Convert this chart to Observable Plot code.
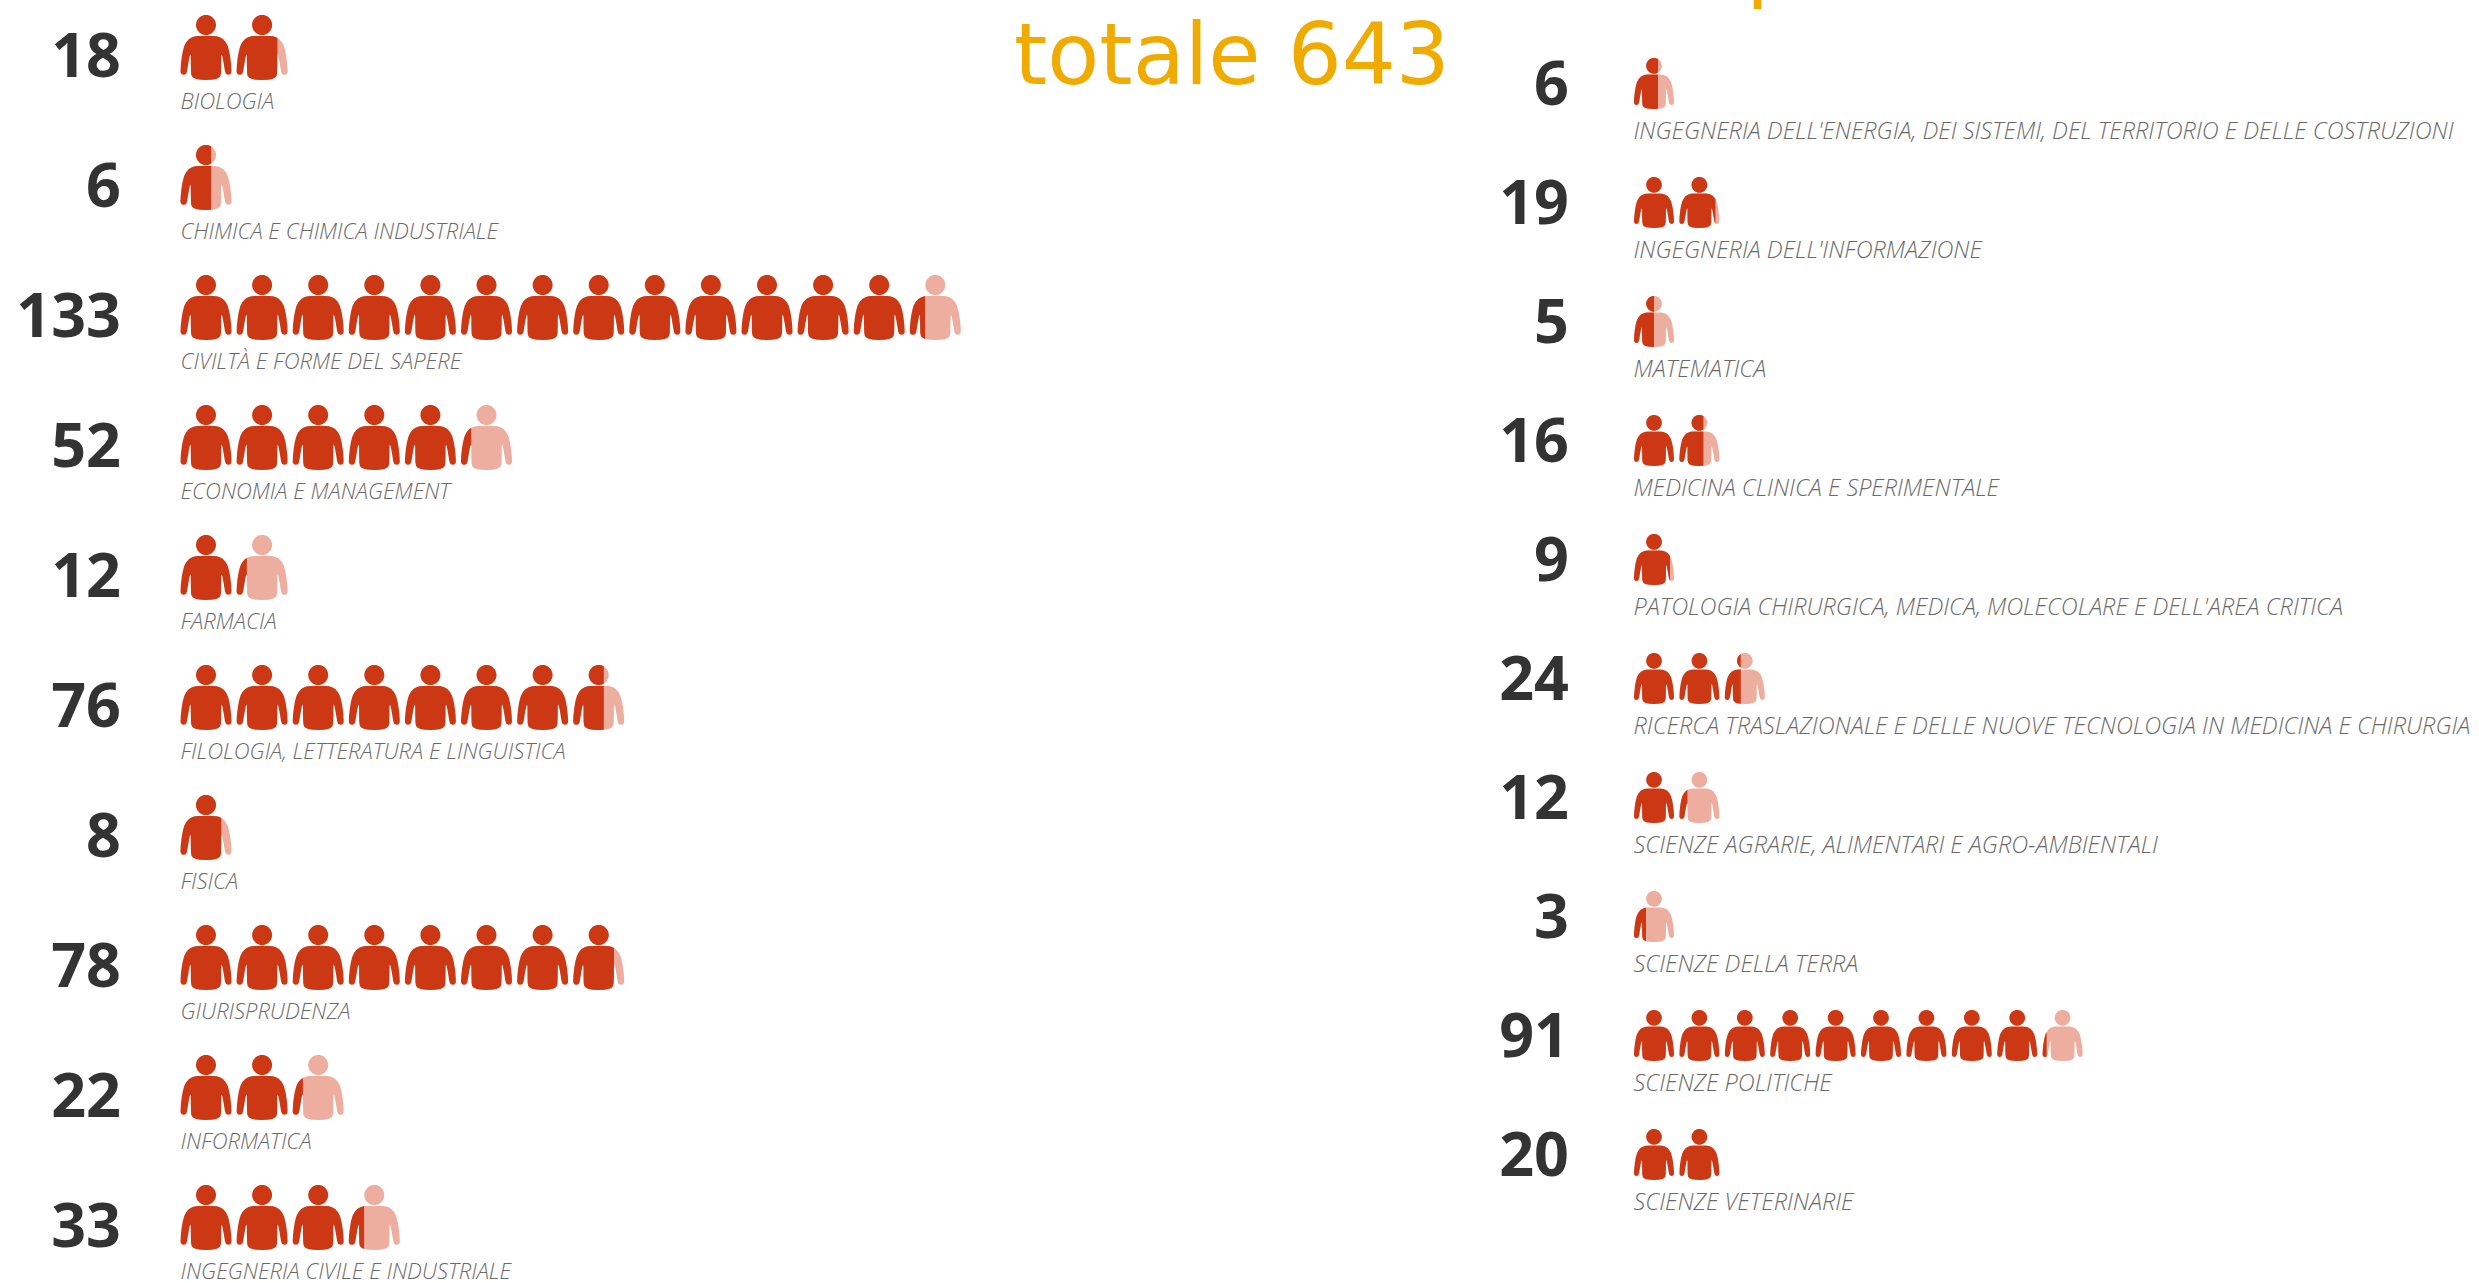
<!DOCTYPE html>
<html lang="it">
<head>
<meta charset="utf-8">
<script src="https://cdn.jsdelivr.net/npm/d3@7"></script>
<script src="https://cdn.jsdelivr.net/npm/@observablehq/plot@0.6"></script>
<style>
html,body{margin:0;padding:0;background:#fff;overflow:hidden;width:2479px;height:1283px}
#page{position:relative;width:2479px;height:1283px;overflow:hidden}
.panel{position:absolute;top:0}
.head{position:absolute;font-family:"DejaVu Sans";font-size:85px;line-height:1;color:#f0ab00;white-space:nowrap}
</style>
</head>
<body>
<div id="page"></div>
<script>
const leftDepartments = ["BIOLOGIA","CHIMICA E CHIMICA INDUSTRIALE","CIVILTÀ E FORME DEL SAPERE","ECONOMIA E MANAGEMENT","FARMACIA","FILOLOGIA, LETTERATURA E LINGUISTICA","FISICA","GIURISPRUDENZA","INFORMATICA","INGEGNERIA CIVILE E INDUSTRIALE"];
const leftValues = [18,6,133,52,12,76,8,78,22,33];
const rightDepartments = ["INGEGNERIA DELL'ENERGIA, DEI SISTEMI, DEL TERRITORIO E DELLE COSTRUZIONI","INGEGNERIA DELL'INFORMAZIONE","MATEMATICA","MEDICINA CLINICA E SPERIMENTALE","PATOLOGIA CHIRURGICA, MEDICA, MOLECOLARE E DELL'AREA CRITICA","RICERCA TRASLAZIONALE E DELLE NUOVE TECNOLOGIA IN MEDICINA E CHIRURGIA","SCIENZE AGRARIE, ALIMENTARI E AGRO-AMBIENTALI","SCIENZE DELLA TERRA","SCIENZE POLITICHE","SCIENZE VETERINARIE"];
const rightValues = [6,19,5,16,9,24,12,3,91,20];
const totalLabel = "totale 643";
const unitPerIcon = 10;
const dark = "#cd3814", light = "#edaea0", numberColor = "#333333", labelColor = "#6a6a6a";

// Half outline of the pictogram's body, in a 51x65 design box, mirrored for the other side.
const bodyHalf = [[0,21],[-8,21],[-11,21.3],[-14,22.3],[-17,24],[-19.7,27],[-21.8,31],[-23.4,37],[-24.4,43],[-25.2,50],[-25.5,56],[-25.3,58],[-24,59.5],[-22,59.8],[-20,59],[-19,56.5],[-17.6,48],[-16.4,41.5],[-15.6,39.5],[-15.2,42],[-15.2,50],[-15,58],[-14.4,61],[-12.8,62.8],[-10,64],[-6,64.8],[0,65]];
const bodyOutline = [...bodyHalf, ...bodyHalf.slice(1,-1).reverse().map(([x,y]) => [-x,y])];
const headOutline = d3.range(48).map(i => [10*Math.cos(i/48*2*Math.PI), 10 + 10*Math.sin(i/48*2*Math.PI)]);

function clipLeft(poly, limit) {
  const out = [];
  poly.forEach((p, i) => {
    const q = poly[(i+1) % poly.length];
    if (p[0] <= limit) out.push(p);
    if ((p[0] <= limit) !== (q[0] <= limit)) {
      const t = (limit - p[0]) / (q[0] - p[0]);
      out.push([limit, p[1] + t*(q[1]-p[1])]);
    }
  });
  return out;
}
function personSymbol(fraction) {
  const limit = -25.5 + 51*fraction;
  const parts = [clipLeft(bodyOutline, limit), clipLeft(headOutline, limit)];
  return {draw(context, size) {
    const s = Math.sqrt(size/Math.PI) / 32.5;
    for (const part of parts) {
      part.forEach(([x,y], i) => {
        const X = x*s, Y = (y-32.5)*s;
        if (i) context.lineTo(X,Y); else context.moveTo(X,Y);
      });
      if (part.length) context.closePath();
    }
  }};
}

function panel(departments, values, {left, width, xRange, yRange, r, numberDx, labelDx, labelDy, numberDy, labelSize, numberSize}) {
  const rows = departments.map((department,i) => ({department, value: values[i]}));
  const persons = rows.flatMap(d => d3.range(Math.ceil(d.value/unitPerIcon)).map(i => ({
    department: d.department, index: i,
    fraction: Math.min(1,(d.value - i*unitPerIcon)/unitPerIcon)
  })));
  const fractions = [...new Set(persons.map(p => p.fraction))];
  const chart = Plot.plot({
    width, height: 1283, margin: 0,
    x: {type:"linear", domain:[0,1], range:xRange, axis:null},
    y: {type:"point", domain:departments, range:yRange, padding:0, axis:null},
    style: {background:"transparent"},
    marks: [
      Plot.dot(persons.filter(p => p.fraction < 1), {x:"index", y:"department", r, symbol:personSymbol(1), fill:light, stroke:"none"}),
      ...fractions.map(f => Plot.dot(persons.filter(p => p.fraction === f), {x:"index", y:"department", r, symbol:personSymbol(f), fill:dark, stroke:"none"})),
      Plot.text(rows, {x:()=>0, y:"department", text:d=>String(d.value), textAnchor:"end", dx:numberDx, dy:numberDy, fontFamily:"Open Sans", fontWeight:700, fontSize:numberSize, fill:numberColor}),
      Plot.text(rows, {x:()=>0, y:"department", text:"department", textAnchor:"start", dx:labelDx, dy:labelDy, fontFamily:"Open Sans", fontWeight:300, fontStyle:"italic", fontSize:labelSize, fill:labelColor})
    ]
  });
  chart.classList.add("panel");
  chart.style.left = left + "px";
  document.getElementById("page").appendChild(chart);
}

panel(leftDepartments, leftValues, {left:0, width:1240, xRange:[205.5,261.6], yRange:[45,1218], r:32.5, numberDx:-85, numberDy:10, labelDx:-25.5, labelDy:54, labelSize:22, numberSize:61});
panel(rightDepartments, rightValues, {left:1240, width:1239, xRange:[413.5,458.9], yRange:[82.5,1153.5], r:25.5, numberDx:-85, numberDy:2, labelDx:-20.5, labelDy:48, labelSize:23.5, numberSize:61});

for (const [text,l,t] of [[totalLabel,1014,12],["p",1746,-81]]) {
  const s = document.createElement("div");
  s.className = "head"; s.textContent = text; s.style.left = l+"px"; s.style.top = t+"px";
  document.getElementById("page").appendChild(s);
}
</script>
</body>
</html>
